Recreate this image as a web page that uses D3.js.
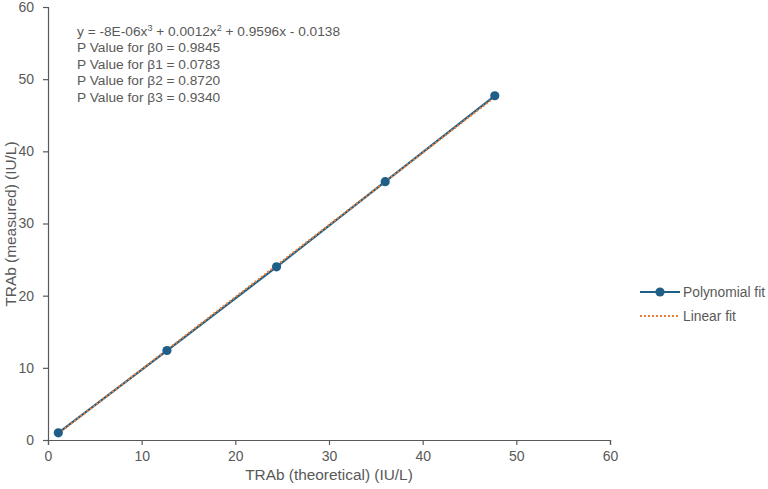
<!DOCTYPE html>
<html><head><meta charset="utf-8">
<script src="https://cdn.jsdelivr.net/npm/d3@7"></script>
<style>body{margin:0;background:#fff;} text{font-family:"Liberation Sans",Arial,sans-serif;fill:#595959;}</style>
</head><body><svg id="c" width="768" height="489"></svg>
<script>
const xTicks = [0,10,20,30,40,50,60];
const yTicks = [0,10,20,30,40,50,60];
const theoretical = [1.1, 12.7, 24.4, 36.0, 47.7];
const measured = [1.0, 12.4, 24.0, 35.8, 47.7];
const linearX = [1.1, 47.7];
const linearY = [0.9, 47.5];
const annotation = [
  ["y = -8E-06x", "3", " + 0.0012x", "2", " + 0.9596x - 0.0138"],
  ["P Value for β0 = 0.9845"],
  ["P Value for β1 = 0.0783"],
  ["P Value for β2 = 0.8720"],
  ["P Value for β3 = 0.9340"]
];
const legendLabels = ["Polynomial fit","Linear fit"];

const svg = d3.select("#c");
const x = d3.scaleLinear().domain([0,60]).range([48,610]);
const y = d3.scaleLinear().domain([0,60]).range([440,7]);
const axisColor = "#595959";

const xa = svg.append("g").attr("transform","translate(0,440)")
  .call(d3.axisBottom(x).tickValues(xTicks).tickSize(5).tickPadding(5));
const ya = svg.append("g").attr("transform","translate(48,0)")
  .call(d3.axisLeft(y).tickValues(yTicks).tickSize(5).tickPadding(6));
[xa,ya].forEach(g=>{
  g.select(".domain").attr("stroke",axisColor).attr("stroke-width",1.2);
  g.selectAll(".tick line").attr("stroke",axisColor).attr("stroke-width",1.2);
  g.selectAll(".tick text").attr("font-size",14).attr("fill","#595959").style("font-family","Liberation Sans, Arial, sans-serif");
});
ya.selectAll(".tick text").attr("dx","-3");
xa.selectAll(".tick text").attr("dy","0.75em");

svg.append("text").attr("x",329).attr("y",480).attr("text-anchor","middle").attr("font-size",15.4).text("TRAb (theoretical) (IU/L)");
svg.append("text").attr("transform","translate(16,224) rotate(-90)").attr("text-anchor","middle").attr("font-size",15.4).text("TRAb (measured) (IU/L)");

const blue = "#1f5f87", orange = "#ed7d31";
const pts = theoretical.map((t,i)=>[t,measured[i]]);
svg.append("path").datum(pts).attr("fill","none").attr("stroke",blue).attr("stroke-width",2.2)
  .attr("d", d3.line().x(d=>x(d[0])).y(d=>y(d[1])));
svg.append("path").datum(linearX.map((v,i)=>[v,linearY[i]])).attr("fill","none").attr("stroke",orange).attr("stroke-width",2)
  .attr("stroke-dasharray","2,2")
  .attr("d", d3.line().x(d=>x(d[0])).y(d=>y(d[1])));
svg.selectAll("circle.p").data(pts).enter().append("circle").attr("class","p")
  .attr("cx",d=>x(d[0])).attr("cy",d=>y(d[1])).attr("r",4.6).attr("fill",blue);

const ann = svg.append("g");
annotation.forEach((parts,i)=>{
  const t = ann.append("text").attr("x",77).attr("y",36+i*16.4).attr("font-size",13.7);
  parts.forEach((p,j)=>{
    if (parts.length>1 && (j===1||j===3)) {
      t.append("tspan").attr("font-size",9).attr("dy",-5).text(p);
    } else if (parts.length>1 && (j===2||j===4)) {
      t.append("tspan").attr("dy",5).text(p);
    } else t.append("tspan").text(p);
  });
});

const lg = svg.append("g");
lg.append("line").attr("x1",640).attr("x2",680).attr("y1",292).attr("y2",292).attr("stroke",blue).attr("stroke-width",2.2);
lg.append("circle").attr("cx",660).attr("cy",292).attr("r",4.6).attr("fill",blue);
lg.append("text").attr("x",683).attr("y",297).attr("font-size",13.8).text(legendLabels[0]);
lg.append("line").attr("x1",640).attr("x2",680).attr("y1",316).attr("y2",316).attr("stroke",orange).attr("stroke-width",2).attr("stroke-dasharray","2,2");
lg.append("text").attr("x",683).attr("y",321).attr("font-size",13.8).text(legendLabels[1]);
</script></body></html>
